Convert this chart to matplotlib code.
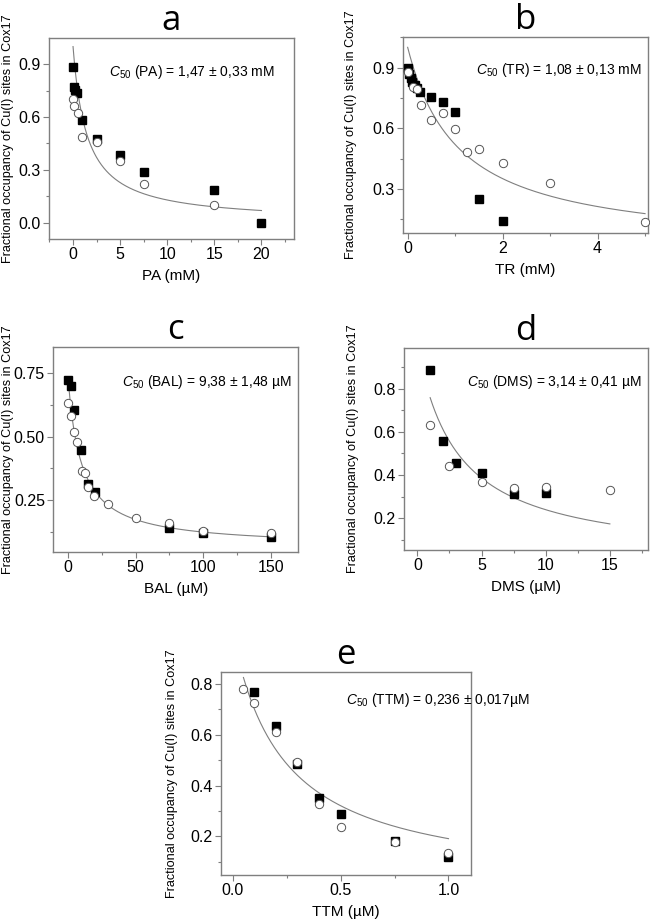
import numpy as np
import matplotlib
matplotlib.use("Agg")
import matplotlib.pyplot as plt
from matplotlib.ticker import MultipleLocator

plt.rcParams['font.family'] = ['Liberation Sans', 'DejaVu Sans']
plt.rcParams['mathtext.fontset'] = 'custom'
plt.rcParams['mathtext.rm'] = 'Liberation Sans'
plt.rcParams['mathtext.it'] = 'Liberation Sans:italic'

# ---------------- data ----------------
# Panel a: PA (mM)
a_sq_x = [0, 0.1, 0.2, 0.4, 1, 2.5, 5, 7.5, 15, 20]
a_sq_y = [0.885, 0.77, 0.755, 0.735, 0.58, 0.475, 0.385, 0.285, 0.185, 0.0]
a_ci_x = [0, 0.05, 0.5, 1, 2.5, 5, 7.5, 15]
a_ci_y = [0.70, 0.665, 0.62, 0.485, 0.46, 0.35, 0.22, 0.10]
a_c50 = 1.47

# Panel b: TR (mM)
b_sq_x = [0, 0.03, 0.06, 0.1, 0.15, 0.2, 0.26, 0.5, 0.75, 1.0, 1.5, 2.0]
b_sq_y = [0.90, 0.87, 0.85, 0.83, 0.815, 0.80, 0.778, 0.756, 0.732, 0.679, 0.25, 0.14]
b_ci_x = [0, 0.12, 0.2, 0.29, 0.5, 0.75, 1.0, 1.25, 1.5, 2.0, 3.0, 5.0]
b_ci_y = [0.877, 0.806, 0.795, 0.715, 0.641, 0.677, 0.597, 0.484, 0.497, 0.43, 0.33, 0.135]
b_c50 = 1.08

# Panel c: BAL (uM)
c_sq_x = [0.5, 2.2, 4.6, 9.6, 15, 20, 75, 100, 150]
c_sq_y = [0.725, 0.70, 0.607, 0.447, 0.313, 0.281, 0.138, 0.12, 0.105]
c_ci_x = [0.5, 2.2, 4.6, 7.1, 10.3, 12.5, 14.7, 19.4, 30, 50, 75, 100, 150]
c_ci_y = [0.635, 0.58, 0.52, 0.48, 0.363, 0.355, 0.30, 0.267, 0.235, 0.18, 0.158, 0.128, 0.118]
c_c50 = 9.38
c_amp = 0.69
c_off = 0.064

# Panel d: DMS (uM)
d_sq_x = [1, 2, 3, 5, 7.5, 10]
d_sq_y = [0.889, 0.556, 0.456, 0.41, 0.31, 0.318]
d_ci_x = [1, 2.5, 5, 7.5, 10, 15]
d_ci_y = [0.634, 0.44, 0.368, 0.338, 0.346, 0.33]
d_c50 = 3.14

# Panel e: TTM (uM)
e_sq_x = [0.1, 0.2, 0.3, 0.4, 0.5, 0.75, 1.0]
e_sq_y = [0.767, 0.635, 0.486, 0.351, 0.287, 0.183, 0.12]
e_ci_x = [0.05, 0.1, 0.2, 0.3, 0.4, 0.5, 0.75, 1.0]
e_ci_y = [0.78, 0.724, 0.611, 0.492, 0.328, 0.238, 0.179, 0.136]
e_c50 = 0.236

ylabel = "Fractional occupancy of Cu(I) sites in Cox17"
gray = "#7f7f7f"

W, H = 650, 919
fig = plt.figure(figsize=(6.5, 9.19), dpi=100)

def make_panel(rect, letter, sqx, sqy, cix, ciy, c50, xr, amp, off,
               xlim, ylim, xmaj, xmin, ymaj, ymin, yfmt, xlabel, txt, txy,
               ylab_px, xtfmt=None):
    ax = fig.add_axes(rect)
    xx = np.linspace(xr[0], xr[1], 300)
    ax.plot(xx, amp * c50 / (c50 + xx) + off, color=gray, lw=0.8, zorder=2)
    ax.plot(sqx, sqy, ls='none', marker='s', ms=5.5, mfc='black', mec='black',
            zorder=3, clip_on=False)
    ax.plot(cix, ciy, ls='none', marker='o', ms=6.0, mfc='white', mec='#555555',
            mew=0.7, zorder=4, clip_on=False)
    ax.set_xlim(*xlim)
    ax.set_ylim(*ylim)
    ax.xaxis.set_major_locator(MultipleLocator(xmaj))
    ax.xaxis.set_minor_locator(MultipleLocator(xmin))
    ax.yaxis.set_major_locator(MultipleLocator(ymaj))
    ax.yaxis.set_minor_locator(MultipleLocator(ymin))
    ax.yaxis.set_major_formatter(plt.FormatStrFormatter(yfmt))
    if xtfmt:
        ax.xaxis.set_major_formatter(plt.FormatStrFormatter(xtfmt))
    for s in ax.spines.values():
        s.set_color(gray)
        s.set_linewidth(1.0)
    ax.tick_params(which='major', direction='out', length=4, width=0.8,
                   color=gray, labelsize=11.5, pad=2)
    ax.tick_params(which='minor', direction='out', length=2.5, width=0.8,
                   color=gray)
    ax.set_xlabel(xlabel, fontsize=11, labelpad=5)
    ax.set_ylabel(ylabel, fontsize=9.1, va='center')
    # place y label centre at a given pixel x
    xa = (ylab_px / W - rect[0]) / rect[2]
    ax.yaxis.set_label_coords(xa, 0.5)
    ax.text(txy[0], txy[1], txt, transform=ax.transAxes, fontsize=10,
            ha='left', va='center')
    ax.set_title(letter, fontsize=25, pad=3, family=['Open Sans', 'DejaVu Sans'])
    return ax

make_panel([0.0754, 0.740, 0.377, 0.2187], 'a', a_sq_x, a_sq_y, a_ci_x, a_ci_y,
           a_c50, (0, 20), 1.0, 0.0, (-2.55, 23.46), (-0.093, 1.049),
           5, 2.5, 0.3, 0.15, '%.1f', 'PA (mM)',
           r'$\mathit{C}_{50}$ (PA) = 1,47 $\pm$ 0,33 mM', (0.245, 0.83), 8)

make_panel([0.6195, 0.7465, 0.378, 0.213], 'b', b_sq_x, b_sq_y, b_ci_x, b_ci_y,
           b_c50, (0, 5), 1.0, 0.0, (-0.105, 5.07), (0.082, 1.05),
           2, 1, 0.3, 0.15, '%.1f', 'TR (mM)',
           r'$\mathit{C}_{50}$ (TR) = 1,08 $\pm$ 0,13 mM', (0.30, 0.83), 351)

make_panel([0.082, 0.3997, 0.377, 0.2224], 'c', c_sq_x, c_sq_y, c_ci_x, c_ci_y,
           c_c50, (0.5, 150), c_amp, c_off, (-10.6, 170), (0.046, 0.853),
           50, 25, 0.25, 0.125, '%.2f', 'BAL (µM)',
           r'$\mathit{C}_{50}$ (BAL) = 9,38 $\pm$ 1,48 µM', (0.28, 0.83), 8)

make_panel([0.6215, 0.4015, 0.3758, 0.2201], 'd', d_sq_x, d_sq_y, d_ci_x, d_ci_y,
           d_c50, (1, 15), 1.0, 0.0, (-1.04, 17.99), (0.052, 0.99),
           5, 2.5, 0.2, 0.1, '%.1f', 'DMS (µM)',
           r'$\mathit{C}_{50}$ (DMS) = 3,14 $\pm$ 0,41 µM', (0.26, 0.83), 353)

make_panel([0.34, 0.0479, 0.3842, 0.2212], 'e', e_sq_x, e_sq_y, e_ci_x, e_ci_y,
           e_c50, (0.05, 1.0), 1.0, 0.0, (-0.054, 1.103), (0.048, 0.848),
           0.5, 0.25, 0.2, 0.1, '%.1f', 'TTM (µM)',
           r'$\mathit{C}_{50}$ (TTM) = 0,236 $\pm$ 0,017µM', (0.50, 0.86), 172,
           xtfmt='%.1f')

fig.savefig("out.png", dpi=100)
